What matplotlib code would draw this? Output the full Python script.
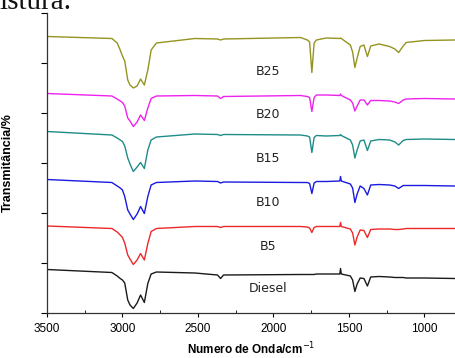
import matplotlib
matplotlib.use('Agg')
import matplotlib.pyplot as plt

# wavenumber grid (cm-1) shared by all spectra
wavenumber = [3500, 3070, 3035, 3015, 3000, 2985, 2965, 2950, 2928, 2903, 2880, 2855, 2832, 2810, 2775,
              2520, 2370, 2350, 2330, 1820, 1775, 1760, 1745, 1730, 1715, 1650, 1560, 1555, 1550,
              1490, 1475, 1460, 1445, 1425, 1400, 1377, 1355, 1300, 1230, 1195, 1170, 1140, 1120, 1000, 800]

b25 = [55.3, 54.9, 54.0, 52.6, 51.4, 50.4, 46.6, 45.6, 45.0, 45.4, 46.8, 45.6, 48.6, 52.6, 54.0,
       54.9, 54.8, 54.6, 54.8, 55.1, 54.6, 54.2, 48.1, 54.0, 54.6, 55.0, 54.9, 55.0, 54.9,
       53.6, 52.2, 49.1, 51.0, 53.3, 53.6, 51.3, 53.4, 53.8, 53.3, 52.8, 52.1, 53.4, 54.1, 54.5, 54.6]
b20 = [43.9, 43.4, 42.8, 42.4, 42.1, 41.4, 39.0, 38.4, 37.3, 38.2, 39.6, 38.5, 41.0, 42.9, 43.4,
       43.5, 43.4, 42.9, 43.3, 43.5, 43.3, 43.1, 40.3, 43.1, 43.6, 43.6, 43.5, 43.8, 43.5,
       42.6, 42.0, 40.4, 41.4, 42.6, 42.6, 41.6, 42.5, 42.5, 42.4, 42.2, 41.9, 42.6, 42.8, 42.9, 42.8]
b15 = [36.3, 35.6, 35.0, 34.6, 34.3, 33.4, 31.0, 29.8, 28.3, 29.2, 30.1, 28.9, 32.6, 34.6, 35.2,
       35.8, 35.7, 35.5, 35.7, 35.6, 35.4, 35.2, 32.1, 35.1, 35.5, 35.4, 35.5, 35.7, 35.5,
       34.6, 33.6, 31.0, 32.6, 34.4, 34.6, 32.5, 34.4, 34.7, 34.6, 34.2, 33.6, 34.5, 34.7, 34.8, 34.7]
b10 = [26.7, 26.1, 25.4, 25.0, 24.6, 23.3, 20.6, 19.8, 18.7, 19.8, 21.3, 19.9, 23.3, 25.6, 26.1,
       26.4, 26.3, 26.0, 26.2, 26.1, 26.1, 25.9, 23.9, 26.0, 26.3, 26.3, 26.4, 27.3, 26.4,
       25.8, 25.0, 22.1, 23.8, 25.4, 24.9, 23.6, 25.6, 25.7, 25.6, 25.4, 24.9, 25.5, 25.5, 25.5, 25.4]
b5 = [17.4, 16.9, 16.2, 15.6, 15.1, 14.0, 11.6, 10.8, 9.7, 10.6, 11.9, 10.6, 13.9, 16.3, 16.9,
      17.3, 17.3, 17.1, 17.3, 17.3, 17.2, 17.0, 16.1, 17.1, 17.3, 17.3, 17.3, 18.1, 17.3,
      16.8, 16.0, 13.6, 15.2, 16.6, 16.5, 15.1, 16.7, 16.8, 16.8, 16.7, 16.7, 16.8, 16.9, 16.9, 16.9]
diesel = [8.7, 8.1, 7.4, 6.9, 6.6, 6.0, 2.6, 1.6, 0.9, 2.0, 3.6, 2.1, 5.9, 7.8, 8.2,
          8.0, 7.6, 6.9, 7.6, 7.7, 7.7, 7.7, 7.7, 7.7, 7.8, 7.8, 7.8, 8.9, 7.8,
          7.4, 6.6, 4.3, 5.8, 7.0, 6.9, 5.4, 7.2, 7.3, 7.2, 7.1, 7.1, 7.1, 7.0, 7.0, 6.9]

names = ['B25', 'B20', 'B15', 'B10', 'B5', 'Diesel']
series = [b25, b20, b15, b10, b5, diesel]
colors = ['#949420', '#ee22ee', '#1e8c88', '#1a1ae0', '#ee2828', '#1a1a1a']
label_y = [48.3, 39.6, 31.0, 22.1, 13.3, 5.0]
label_x = 2034

fig = plt.figure(figsize=(4.56, 3.58), dpi=100)
ax = fig.add_axes([47/456, 45/358, 409/456, 300/358])

for ys, c in zip(series, colors):
    ax.plot(wavenumber, ys, color=c, lw=1.0)

for n, ly in zip(names, label_y):
    ax.text(label_x, ly, n, ha='center', va='center', fontsize=9, color='#222222',
            family='DejaVu Sans')

ax.set_xlim(3500, 790)
ax.set_ylim(0, 60)
ax.set_xticks([3500, 3000, 2500, 2000, 1500, 1000])
ax.set_xticks([3250, 2750, 2250, 1750, 1250], minor=True)
ax.set_yticks([0, 10, 20, 30, 40, 50, 60])
ax.set_yticklabels([])
for lab in ax.get_xticklabels():
    lab.set_family('Liberation Sans')
ax.tick_params(axis='x', which='major', direction='out', length=3, labelsize=8.5, pad=4)
ax.tick_params(axis='x', which='minor', direction='in', length=2)
ax.tick_params(axis='y', direction='out', length=4)
ax.spines['top'].set_visible(False)
ax.spines['right'].set_visible(False)
for s in ['left', 'bottom']:
    ax.spines[s].set_color('#333333')
    ax.spines[s].set_linewidth(0.9)

ax.set_xlabel('Numero de Onda/cm$^{-1}$', fontsize=8.5, fontweight='bold',
              family='Liberation Sans', labelpad=4)
ax.set_ylabel('Transmitância/%', fontsize=9, fontweight='bold',
              family='Liberation Sans', labelpad=16)

fig.text(-1/456, 1 - 9/358, 'istura.', fontsize=21, family='Liberation Serif',
         va='baseline', ha='left', color='#111111')

fig.savefig('out.png', dpi=100)
